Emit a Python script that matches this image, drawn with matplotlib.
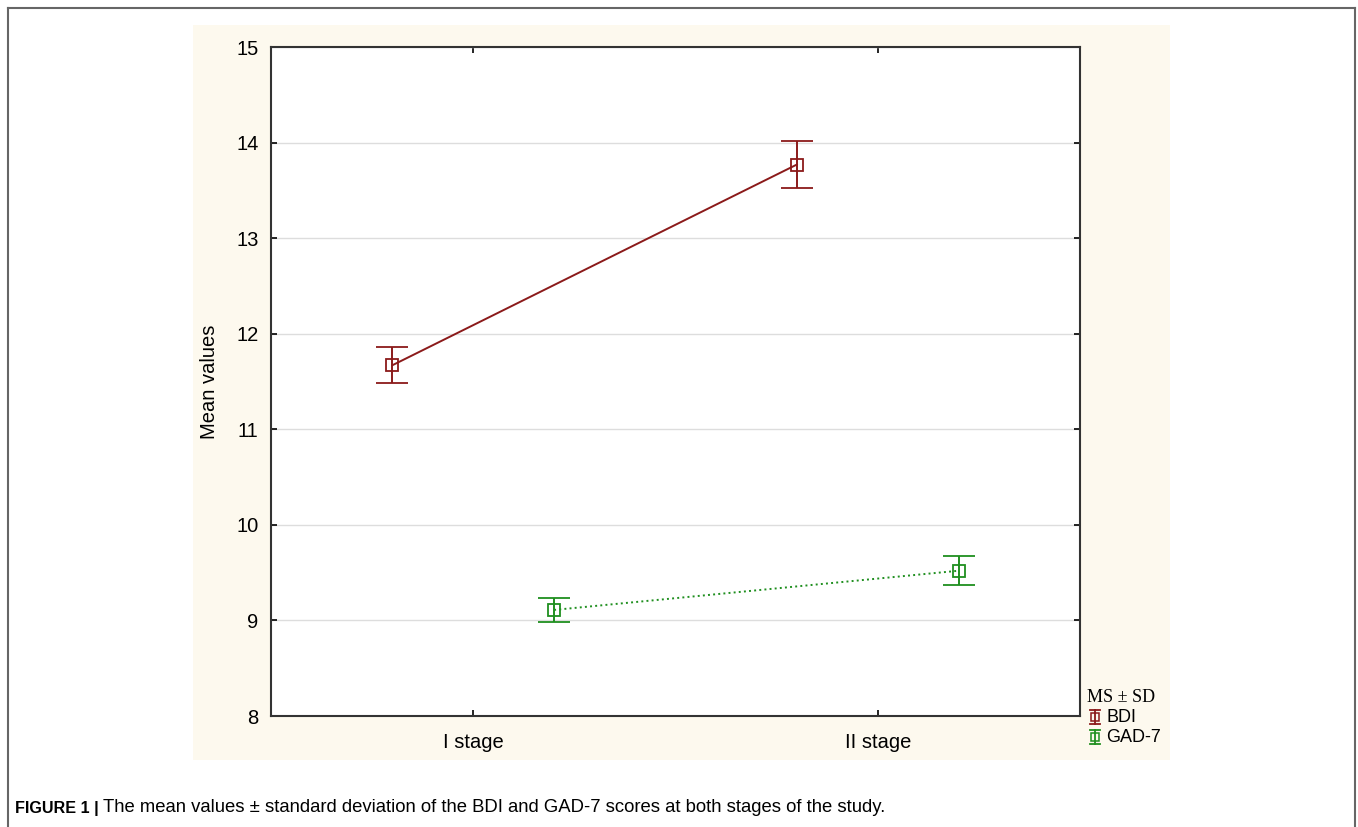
import matplotlib
matplotlib.use("Agg")
import matplotlib.pyplot as plt
from matplotlib.patches import Rectangle
from matplotlib.lines import Line2D

plt.rcParams['font.family'] = ['Liberation Sans', 'DejaVu Sans']

stages = ["I stage", "II stage"]
series = ["BDI", "GAD-7"]
bdi_mean = [11.67, 13.77]
bdi_sd = [0.19, 0.25]
gad_mean = [9.11, 9.52]
gad_sd = [0.125, 0.15]

red = "#8b1a1a"
green = "#1f8f1f"

W, H = 1358, 827
fig = plt.figure(figsize=(W / 100, H / 100), dpi=100)


def fx(px):
    return px / W


def fy(py):
    return 1 - py / H


# cream panel behind the chart
fig.patches.append(Rectangle((fx(193), fy(760)), 977 / W, 735 / H,
                             transform=fig.transFigure, facecolor="#fdf9ee",
                             edgecolor="none", zorder=-5))
# outer frame (open at bottom)
for xs, ys in [([fx(8), fx(8)], [0, fy(8)]),
               ([fx(8), fx(1355)], [fy(8), fy(8)]),
               ([fx(1355), fx(1355)], [fy(8), 0])]:
    fig.add_artist(Line2D(xs, ys, transform=fig.transFigure, color="#666666", lw=1.5))

ax = fig.add_axes([fx(271), fy(716), 809 / W, 669 / H])
ax.set_facecolor("white")

x = range(len(stages))
bx = [i - 0.2 for i in x]
gx = [i + 0.2 for i in x]

ax.errorbar(bx, bdi_mean, yerr=bdi_sd, color=red, lw=1.4, capsize=11.5,
            capthick=1.4, marker="s", ms=8, mfc="none", mew=1.3, ls="-", zorder=3)
ax.errorbar(gx, gad_mean, yerr=gad_sd, color=green, lw=1.4, capsize=11.5,
            capthick=1.4, marker="s", ms=8, mfc="none", mew=1.3, ls=":", zorder=3)

ax.set_xlim(-0.5, 1.5)
ax.set_ylim(8, 15)
ax.set_xticks(list(x))
ax.set_xticklabels(stages, fontsize=14.5)
ax.set_yticks(range(8, 16))
ax.tick_params(axis="y", labelsize=14.5, pad=9)
ax.tick_params(axis="x", pad=12)
ax.tick_params(direction="in", length=4, width=1.2, top=True, right=True)
ax.yaxis.grid(True, color="#dddddd", lw=1)
ax.set_axisbelow(True)
for s in ax.spines.values():
    s.set_linewidth(1.5)
    s.set_color("#333333")
ax.set_ylabel("Mean values", fontsize=14.5, labelpad=12)

# legend drawn by hand (small errorbar glyphs)
fig.text(fx(1087), fy(698), "MS \u00b1 SD", fontsize=13, family="Liberation Serif", va="center")
for name, col, py in [(series[0], red, 717), (series[1], green, 737)]:
    fig.add_artist(Line2D([fx(1095), fx(1095)], [fy(py - 7), fy(py + 7)],
                          transform=fig.transFigure, color=col, lw=1.3))
    for cy in (py - 7, py + 7):
        fig.add_artist(Line2D([fx(1090), fx(1100)], [fy(cy), fy(cy)],
                              transform=fig.transFigure, color=col, lw=1.3))
    fig.add_artist(Line2D([fx(1095)], [fy(py)], transform=fig.transFigure, color=col,
                          marker="s", ms=6, mfc="none", mew=1.1))
    fig.text(fx(1106), fy(py), name, fontsize=13, va="center")

fig.text(fx(15), fy(808), "FIGURE 1 |", fontsize=11.6, fontweight="bold", va="center")
fig.text(fx(103), fy(808),
         "The mean values \u00b1 standard deviation of the BDI and GAD-7 scores at both stages of the study.",
         fontsize=13.3, va="center")

fig.savefig("out.png", dpi=100)
